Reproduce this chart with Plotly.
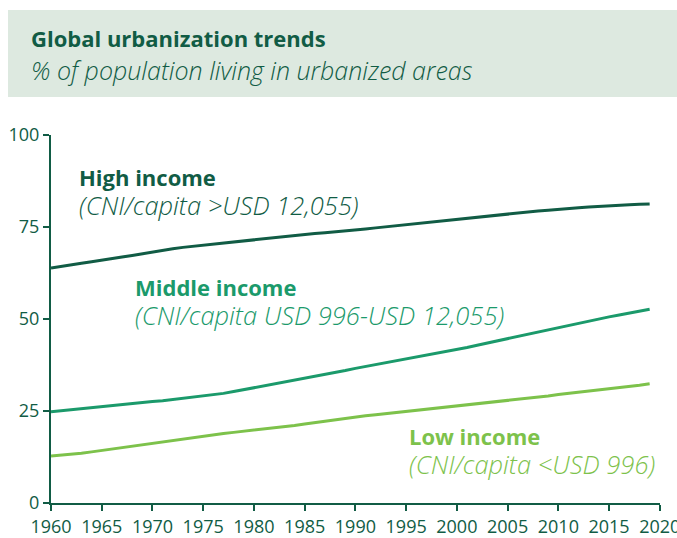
import plotly.graph_objects as go

years = list(range(1960, 2020))
high_income = [63.9, 64.4, 64.8, 65.2, 65.6, 66.1, 66.5, 66.9, 67.3, 67.8,
               68.3, 68.7, 69.1, 69.5, 69.8, 70.1, 70.4, 70.7, 71.0, 71.3,
               71.6, 71.9, 72.2, 72.5, 72.8, 73.1, 73.3, 73.5, 73.7, 73.9,
               74.2, 74.5, 74.8, 75.1, 75.3, 75.6, 75.9, 76.2, 76.5, 76.8,
               77.1, 77.4, 77.7, 78.0, 78.2, 78.5, 78.8, 79.1, 79.4, 79.6,
               79.9, 80.1, 80.3, 80.5, 80.7, 80.9, 81.0, 81.1, 81.2, 81.3]
middle_income = [24.8, 25.1, 25.4, 25.7, 26.0, 26.3, 26.6, 26.8, 27.0, 27.3,
                 27.6, 27.8, 28.1, 28.5, 28.9, 29.2, 29.5, 29.8, 30.3, 30.8,
                 31.3, 31.8, 32.3, 32.8, 33.4, 34.0, 34.5, 35.0, 35.5, 36.0,
                 36.6, 37.1, 37.6, 38.1, 38.6, 39.1, 39.6, 40.1, 40.6, 41.1,
                 41.7, 42.3, 42.9, 43.5, 44.1, 44.7, 45.3, 45.9, 46.5, 47.1,
                 47.8, 48.4, 49.0, 49.6, 50.1, 50.6, 51.1, 51.6, 52.1, 52.7]
low_income = [12.8, 13.0, 13.1, 13.5, 13.9, 14.3, 14.6, 14.9, 15.3, 15.7,
              16.1, 16.5, 16.9, 17.3, 17.7, 18.1, 18.5, 18.9, 19.2, 19.5,
              19.9, 20.2, 20.4, 20.7, 21.1, 21.5, 21.9, 22.3, 22.7, 23.1,
              23.4, 23.7, 24.0, 24.3, 24.6, 24.8, 25.1, 25.4, 25.7, 26.0,
              26.3, 26.6, 26.9, 27.2, 27.5, 27.9, 28.2, 28.5, 28.8, 29.1,
              29.5, 29.8, 30.1, 30.4, 30.7, 31.0, 31.4, 31.7, 32.0, 32.4]

x_ticks = list(range(1960, 2021, 5))
y_ticks = [0, 25, 50, 75, 100]

title = "Global urbanization trends"
subtitle = "% of population living in urbanized areas"
series = [
    ("High income", "(CNI/capita >USD 12,055)", high_income, "#115c45"),
    ("Middle income", "(CNI/capita USD 996-USD 12,055)", middle_income, "#1b9a6b"),
    ("Low income", "(CNI/capita <USD 996)", low_income, "#7dc24b"),
]
# label block anchor positions (data coords): (x, y_center)
label_pos = [(1962.56, 84.6), (1968.08, 54.6), (1995.07, 14.1)]

FONT = "Open Sans"
DARK = "#115c45"

fig = go.Figure()
for (name, sub, vals, col) in series:
    fig.add_trace(go.Scatter(x=years, y=vals, mode="lines", name=name,
                             line=dict(color=col, width=3), showlegend=False,
                             hoverinfo="x+y"))

for (name, sub, vals, col), (lx, ly) in zip(series, label_pos):
    txt = ("<b>" + name + "</b><br><i><span style='font-size:25.5px;font-weight:300'>"
           + sub + "</span></i>")
    fig.add_annotation(x=lx, y=ly, xref="x", yref="y", text=txt,
                       showarrow=False, xanchor="left", yanchor="middle", align="left",
                       font=dict(family=FONT, size=22, color=col))

# header box
fig.add_shape(type="rect", xref="paper", yref="paper",
              x0=-0.0706, x1=1.03, y0=1.103, y1=1.340,
              fillcolor="#dde9e0", line=dict(width=0), layer="below")
fig.add_annotation(x=-0.0355, y=1.2636, xref="paper", yref="paper",
                   text="<b>" + title + "</b>", showarrow=False,
                   xanchor="left", yanchor="middle",
                   font=dict(family=FONT, size=22, color=DARK))
fig.add_annotation(x=-0.0355, y=1.1766, xref="paper", yref="paper",
                   text="<i>" + subtitle + "</i>", showarrow=False,
                   xanchor="left", yanchor="middle",
                   font=dict(family=FONT, size=25, color=DARK, weight=300))

axis_common = dict(showgrid=False, zeroline=False, showline=True,
                   linecolor=DARK, linewidth=2, ticks="outside",
                   tickcolor=DARK, tickwidth=2, ticklen=6,
                   ticklabeloverflow="allow",
                   tickfont=dict(family=FONT, size=18, color=DARK))
fig.update_xaxes(range=[1960, 2020.02], tickvals=x_ticks,
                 ticktext=[str(t) for t in x_ticks], **axis_common)
fig.update_yaxes(range=[0, 100.05], tickvals=y_ticks,
                 ticktext=[str(t) for t in y_ticks], **axis_common)

fig.update_layout(width=677, height=538,
                  margin=dict(l=51, r=17, t=135, b=35, autoexpand=False),
                  plot_bgcolor="white", paper_bgcolor="white")

fig.write_html("out.html", config={"displayModeBar": False},
               post_script="document.body.style.margin='0';document.body.style.overflow='hidden';")
